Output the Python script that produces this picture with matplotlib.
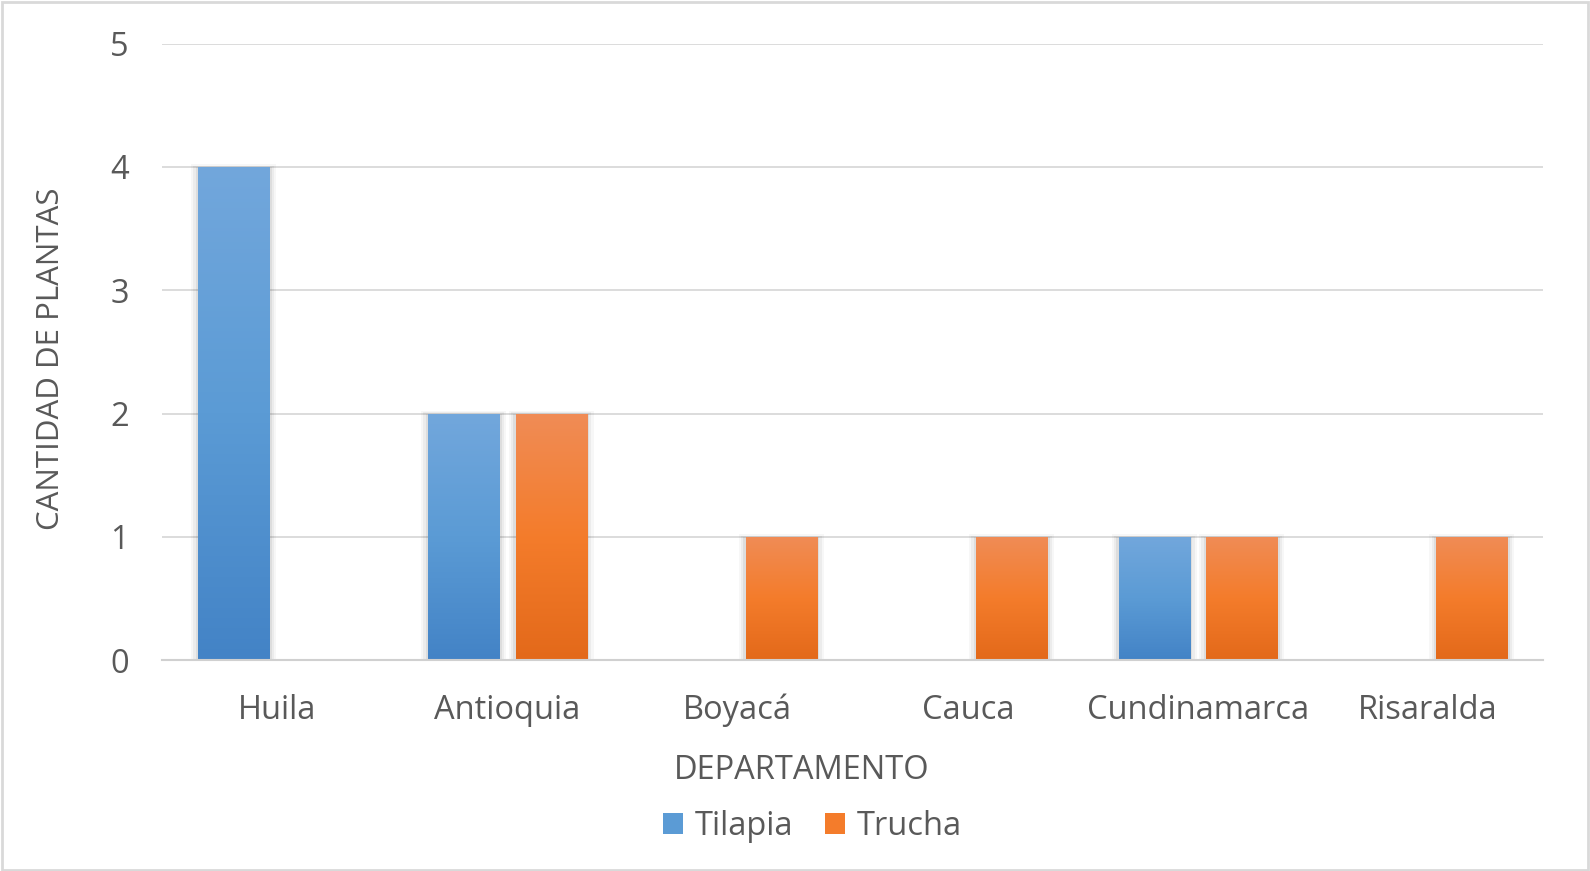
import matplotlib
matplotlib.use("Agg")
import matplotlib.pyplot as plt
import numpy as np
from matplotlib.patches import Rectangle, Patch
from matplotlib.colors import LinearSegmentedColormap

plt.rcParams['font.family'] = ['Open Sans', 'DejaVu Sans']

departamentos = ['Huila', 'Antioquia', 'Boyacá', 'Cauca', 'Cundinamarca', 'Risaralda']
tilapia = [4, 2, 0, 0, 1, 0]
trucha = [0, 2, 1, 1, 1, 1]
series = ['Tilapia', 'Trucha']

gray_txt = '#595959'
grid_col = '#d9d9d9'
fs = 23.5

# gradient colours (bottom -> top)
blue_cmap = LinearSegmentedColormap.from_list('b', ['#4383c6', '#5b9bd5', '#72a7dc'])
orange_cmap = LinearSegmentedColormap.from_list('o', ['#e3691a', '#f47c2b', '#f08c56'])

fig = plt.figure(figsize=(15.9, 8.71), dpi=100)
ax = fig.add_axes([0.102, 0.242, 0.8686, 0.708])

x = np.arange(len(departamentos))
width = 0.31
offset = 0.19

grad = np.linspace(0, 1, 256).reshape(-1, 1)


def gradient_bar(xc, h, cmap):
    if h <= 0:
        ax.plot([xc - width / 2, xc + width / 2], [0, 0], color='#c8c8c8', lw=1.2, zorder=3)
        return
    # soft shadow
    for i, a in enumerate([0.06, 0.045, 0.03]):
        d = 0.01 * (i + 1)
        ax.add_patch(Rectangle((xc - width / 2 - d, 0), width + 2 * d, h + 0.01 * i,
                               facecolor='black', alpha=a, lw=0, zorder=2))
    im = ax.imshow(grad, extent=(xc - width / 2, xc + width / 2, 0, h), origin='lower',
                   cmap=cmap, aspect='auto', zorder=3)
    r = Rectangle((xc - width / 2, 0), width, h, transform=ax.transData)
    im.set_clip_path(r)


for i in range(len(departamentos)):
    gradient_bar(x[i] - offset, tilapia[i], blue_cmap)
    gradient_bar(x[i] + offset, trucha[i], orange_cmap)

ax.set_xlim(-0.5, len(departamentos) - 0.5)
ax.set_ylim(0, 5)
ax.set_yticks(range(0, 6))
ax.set_xticks(x)
ax.set_xticklabels(departamentos)
ax.yaxis.grid(True, color=grid_col, lw=1.3)
ax.set_axisbelow(True)
for s in ['top', 'right', 'left']:
    ax.spines[s].set_visible(False)
ax.spines['bottom'].set_color('#d0d0d0')
ax.spines['bottom'].set_linewidth(1.5)
ax.spines['bottom'].set_zorder(4)
ax.tick_params(axis='both', length=0, colors=gray_txt, labelsize=fs)
ax.tick_params(axis='y', pad=24)
ax.tick_params(axis='x', pad=24)

fig.text(0.032, 0.588, 'CANTIDAD DE PLANTAS', fontsize=22.5, color=gray_txt,
         rotation=90, ha='center', va='center')
fig.text(0.504, 0.115, 'DEPARTAMENTO', fontsize=fs, color=gray_txt, ha='center', va='center')

handles = [Patch(facecolor='#5b9bd5'), Patch(facecolor='#f47c2b')]
fig.legend(handles, series, loc='center', bbox_to_anchor=(0.511, 0.0515), ncol=2, frameon=False,
           fontsize=fs, labelcolor=gray_txt, handlelength=0.6, handleheight=0.6,
           handletextpad=0.35, columnspacing=1.0)

fig.patches.append(Rectangle((0.001, 0.001), 0.998, 0.997, transform=fig.transFigure,
                             fill=False, edgecolor='#d9d9d9', lw=2))

fig.savefig('out.png', dpi=100, facecolor='white')
